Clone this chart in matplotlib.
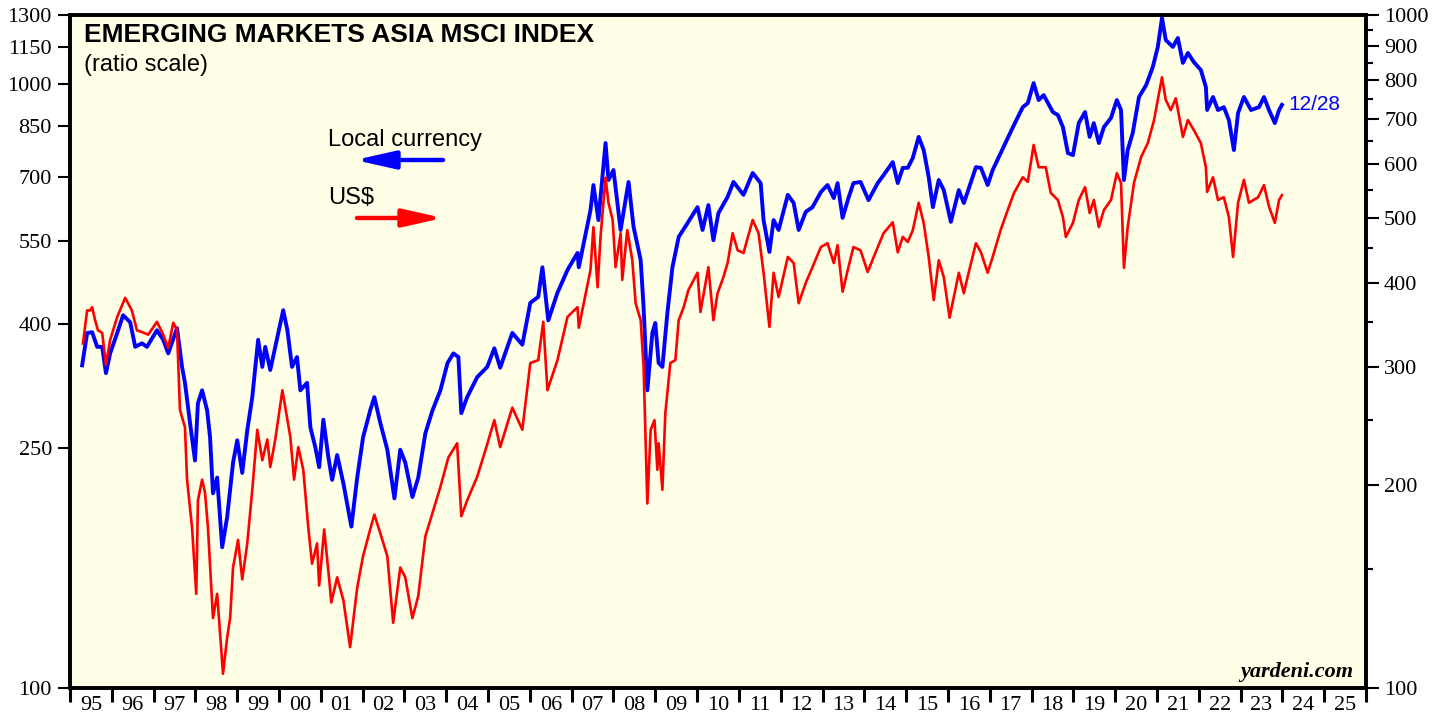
import matplotlib
matplotlib.use("Agg")
import matplotlib.pyplot as plt
from matplotlib.ticker import FixedLocator, FixedFormatter, NullFormatter, NullLocator

# MSCI EM Asia, local currency (left scale)
local_years = [
    1995.29, 1995.41, 1995.53, 1995.65, 1995.77, 1995.86, 1995.96, 1996.13, 1996.27, 1996.44,
    1996.56, 1996.72, 1996.84, 1997.08, 1997.23, 1997.35, 1997.56, 1997.68, 1997.75, 1997.87,
    1997.99, 1998.06, 1998.16, 1998.28, 1998.35, 1998.42, 1998.52, 1998.64, 1998.76, 1998.90,
    1999.00, 1999.12, 1999.24, 1999.36, 1999.50, 1999.60, 1999.67, 1999.79, 1999.91, 2000.10,
    2000.20, 2000.31, 2000.43, 2000.51, 2000.67, 2000.75, 2000.87, 2000.96, 2001.06, 2001.18,
    2001.27, 2001.39, 2001.54, 2001.73, 2001.87, 2002.01, 2002.18, 2002.28, 2002.42, 2002.59,
    2002.76, 2002.90, 2003.02, 2003.19, 2003.33, 2003.50, 2003.67, 2003.86, 2004.03, 2004.17,
    2004.29, 2004.36, 2004.50, 2004.74, 2004.98, 2005.15, 2005.29, 2005.58, 2005.82, 2006.01,
    2006.20, 2006.30, 2006.44, 2006.66, 2006.90, 2007.14, 2007.17, 2007.45, 2007.52, 2007.64,
    2007.81, 2007.88, 2008.00, 2008.17, 2008.36, 2008.48, 2008.65, 2008.72, 2008.81, 2008.93,
    2009.00, 2009.08, 2009.17, 2009.29, 2009.41, 2009.56, 2009.77, 2010.01, 2010.13, 2010.27,
    2010.39, 2010.51, 2010.73, 2010.87, 2011.11, 2011.33, 2011.52, 2011.59, 2011.73, 2011.83,
    2011.95, 2012.17, 2012.31, 2012.43, 2012.60, 2012.76, 2012.96, 2013.12, 2013.27, 2013.36,
    2013.48, 2013.62, 2013.74, 2013.91, 2014.10, 2014.32, 2014.46, 2014.68, 2014.80, 2014.92,
    2015.04, 2015.16, 2015.30, 2015.42, 2015.54, 2015.64, 2015.78, 2015.90, 2016.07, 2016.26,
    2016.38, 2016.47, 2016.67, 2016.79, 2016.95, 2017.07, 2017.26, 2017.43, 2017.58, 2017.79,
    2017.91, 2018.05, 2018.17, 2018.29, 2018.51, 2018.63, 2018.75, 2018.87, 2018.99, 2019.13,
    2019.28, 2019.39, 2019.49, 2019.61, 2019.73, 2019.90, 2020.04, 2020.14, 2020.21, 2020.30,
    2020.42, 2020.57, 2020.74, 2020.90, 2021.02, 2021.12, 2021.21, 2021.38, 2021.50, 2021.62,
    2021.74, 2021.88, 2022.05, 2022.17, 2022.20, 2022.34, 2022.46, 2022.60, 2022.72, 2022.84,
    2022.94, 2023.08, 2023.25, 2023.44, 2023.56, 2023.68, 2023.82, 2023.92, 2023.99,
]
local_values = [
    342, 387, 388, 367, 367, 332, 358, 387, 414, 403,
    367, 372, 367, 391, 377, 358, 394, 340, 320, 275,
    238, 296, 311, 288, 260, 210, 223, 171, 192, 236,
    257, 227, 267, 303, 377, 340, 367, 336, 367, 422,
    391, 340, 353, 311, 320, 270, 250, 232, 278, 241,
    221, 243, 218, 185, 223, 260, 288, 303, 275, 248,
    206, 248, 236, 207, 223, 264, 288, 311, 345, 358,
    353, 285, 303, 327, 340, 365, 339, 387, 370, 434,
    444, 497, 406, 451, 492, 525, 497, 618, 680, 595,
    798, 693, 720, 573, 688, 580, 511, 427, 311, 387,
    402, 345, 340, 418, 497, 558, 588, 625, 573, 630,
    551, 611, 650, 688, 655, 712, 685, 595, 527, 595,
    573, 655, 635, 573, 614, 625, 662, 680, 647, 685,
    600, 647, 685, 688, 642, 685, 706, 742, 685, 726,
    726, 754, 817, 777, 701, 625, 693, 667, 591, 667,
    635, 662, 728, 726, 680, 720, 768, 813, 855, 915,
    929, 1003, 940, 958, 898, 888, 848, 768, 762, 861,
    898, 817, 861, 798, 848, 878, 940, 905, 693, 777,
    829, 951, 995, 1066, 1151, 1285, 1182, 1151, 1191, 1083,
    1125, 1087, 1054, 988, 905, 951, 905, 915, 871, 777,
    895, 951, 905, 915, 951, 905, 861, 905, 923,
]

# MSCI EM Asia, US$ (right scale)
usd_years = [
    1995.31, 1995.41, 1995.48, 1995.53, 1995.60, 1995.67, 1995.77, 1995.86, 1995.96, 1996.13,
    1996.32, 1996.48, 1996.60, 1996.72, 1996.87, 1997.08, 1997.23, 1997.35, 1997.47, 1997.56,
    1997.63, 1997.75, 1997.80, 1997.92, 1998.02, 1998.06, 1998.16, 1998.23, 1998.30, 1998.42,
    1998.52, 1998.66, 1998.76, 1998.83, 1998.90, 1999.02, 1999.12, 1999.24, 1999.36, 1999.48,
    1999.60, 1999.72, 1999.79, 1999.91, 2000.08, 2000.15, 2000.27, 2000.36, 2000.46, 2000.58,
    2000.70, 2000.79, 2000.91, 2000.96, 2001.08, 2001.20, 2001.25, 2001.39, 2001.54, 2001.70,
    2001.87, 2002.01, 2002.18, 2002.28, 2002.42, 2002.59, 2002.73, 2002.90, 2003.02, 2003.19,
    2003.33, 2003.50, 2003.67, 2003.86, 2004.05, 2004.26, 2004.36, 2004.50, 2004.74, 2004.94,
    2005.15, 2005.29, 2005.58, 2005.82, 2006.01, 2006.20, 2006.32, 2006.42, 2006.66, 2006.90,
    2007.14, 2007.17, 2007.45, 2007.52, 2007.62, 2007.69, 2007.81, 2007.88, 2007.98, 2008.05,
    2008.17, 2008.21, 2008.33, 2008.45, 2008.53, 2008.65, 2008.72, 2008.81, 2008.89, 2008.98,
    2009.05, 2009.08, 2009.17, 2009.24, 2009.36, 2009.48, 2009.56, 2009.68, 2009.79, 2010.01,
    2010.08, 2010.27, 2010.39, 2010.49, 2010.63, 2010.73, 2010.85, 2010.97, 2011.11, 2011.33,
    2011.47, 2011.59, 2011.73, 2011.83, 2011.95, 2012.17, 2012.31, 2012.43, 2012.60, 2012.76,
    2012.96, 2013.12, 2013.27, 2013.36, 2013.48, 2013.62, 2013.74, 2013.91, 2014.08, 2014.27,
    2014.46, 2014.68, 2014.80, 2014.92, 2015.04, 2015.16, 2015.30, 2015.42, 2015.54, 2015.66,
    2015.78, 2015.90, 2016.04, 2016.26, 2016.38, 2016.47, 2016.67, 2016.79, 2016.95, 2017.07,
    2017.26, 2017.43, 2017.58, 2017.79, 2017.91, 2018.05, 2018.17, 2018.34, 2018.46, 2018.63,
    2018.75, 2018.82, 2018.99, 2019.13, 2019.28, 2019.39, 2019.49, 2019.61, 2019.73, 2019.90,
    2020.04, 2020.14, 2020.21, 2020.30, 2020.45, 2020.62, 2020.78, 2020.93, 2021.12, 2021.21,
    2021.33, 2021.45, 2021.62, 2021.74, 2021.88, 2022.05, 2022.17, 2022.20, 2022.34, 2022.46,
    2022.60, 2022.72, 2022.82, 2022.94, 2023.08, 2023.20, 2023.42, 2023.56, 2023.68, 2023.82,
    2023.92, 2023.99,
]
usd_values = [
    325, 364, 364, 368, 352, 340, 337, 302, 329, 356,
    380, 364, 340, 338, 335, 350, 335, 320, 349, 340,
    259, 244, 204, 173, 138, 190, 204, 195, 173, 127,
    138, 105, 119, 127, 151, 166, 145, 164, 197, 242,
    218, 234, 213, 234, 277, 261, 236, 204, 228, 211,
    173, 153, 164, 142, 172, 145, 134, 146, 135, 115,
    141, 157, 172, 181, 170, 157, 125, 151, 146, 127,
    137, 168, 182, 199, 220, 231, 180, 190, 206, 226,
    250, 228, 261, 242, 304, 307, 350, 277, 307, 356,
    368, 343, 418, 484, 394, 468, 573, 526, 496, 422,
    474, 404, 479, 432, 373, 352, 300, 188, 242, 250,
    211, 231, 197, 256, 304, 307, 352, 368, 390, 414,
    362, 422, 352, 386, 408, 428, 474, 447, 443, 496,
    474, 414, 344, 414, 381, 437, 428, 373, 400, 422,
    452, 458, 428, 455, 388, 422, 452, 447, 415, 444,
    474, 492, 444, 468, 460, 479, 526, 491, 437, 377,
    432, 408, 355, 414, 386, 408, 458, 444, 414, 437,
    479, 513, 544, 574, 565, 641, 594, 594, 544, 531,
    501, 468, 491, 531, 555, 508, 531, 484, 513, 531,
    582, 563, 421, 484, 563, 615, 645, 698, 808, 748,
    722, 752, 659, 698, 675, 645, 594, 546, 574, 531,
    536, 501, 437, 526, 569, 526, 536, 559, 519, 491,
    531, 540,
]

left_ticks = [100, 250, 400, 550, 700, 850, 1000, 1150, 1300]
right_ticks = [100, 200, 300, 400, 500, 600, 700, 800, 900, 1000]
right_minor = [150, 250, 350, 450, 550, 650, 750, 850, 950]
year_edges = list(range(1995, 2027))
year_labels = ["%02d" % (y % 100) for y in range(1995, 2026)]

SERIF = "Liberation Serif"
SANS = "Liberation Sans"
W, H = 1446, 719

fig = plt.figure(figsize=(W / 100, H / 100), dpi=100)
ax = fig.add_axes([70 / W, 1 - 688 / H, 1296 / W, 673 / H])
ax.set_facecolor("#fffee6")
ax2 = ax.twinx()

ax.plot(local_years, local_values, color="#0000ff", lw=2.8, solid_joinstyle="round")
ax2.plot(usd_years, usd_values, color="#ff0000", lw=1.9, solid_joinstyle="round")

ax.set_xlim(1995, 2026)
ax.set_yscale("log")
ax.set_ylim(100, 1300)
ax2.set_yscale("log")
ax2.set_ylim(100, 1000)

# left axis
ax.yaxis.set_major_locator(FixedLocator(left_ticks))
ax.yaxis.set_major_formatter(FixedFormatter([str(v) for v in left_ticks]))
ax.yaxis.set_minor_locator(NullLocator())
ax.yaxis.set_minor_formatter(NullFormatter())

# right axis
ax2.yaxis.set_major_locator(FixedLocator(right_ticks))
ax2.yaxis.set_major_formatter(FixedFormatter([str(v) for v in right_ticks]))
ax2.yaxis.set_minor_locator(FixedLocator(right_minor))
ax2.yaxis.set_minor_formatter(NullFormatter())

# x axis: tick at each year boundary, label centred in the year
ax.xaxis.set_major_locator(FixedLocator(year_edges))
ax.xaxis.set_major_formatter(NullFormatter())
ax.xaxis.set_minor_locator(FixedLocator([y + 0.5 for y in range(1995, 2026)]))
ax.xaxis.set_minor_formatter(FixedFormatter(year_labels))

ax.tick_params(axis="y", which="major", direction="out", length=9, width=1.5,
               labelsize=16, pad=4)
ax.tick_params(axis="x", which="major", direction="out", length=10, width=2.2)
ax.tick_params(axis="x", which="minor", length=0, labelsize=16, pad=6)
ax2.tick_params(axis="y", which="major", direction="out", length=9, width=1.5,
                labelsize=16, pad=4)
ax2.tick_params(axis="y", which="minor", direction="out", length=5, width=1.5)

for lab in ax.get_yticklabels() + ax2.get_yticklabels() + ax.get_xticklabels(minor=True):
    lab.set_fontfamily(SERIF)

for a in (ax, ax2):
    for s in a.spines.values():
        s.set_linewidth(2.6)

fig.text(84 / W, 1 - 35 / H, "EMERGING MARKETS ASIA MSCI INDEX", fontsize=19,
         fontweight="bold", family=SANS, va="center", ha="left")
fig.text(84 / W, 1 - 65 / H, "(ratio scale)", fontsize=17, family=SANS,
         va="center", ha="left")
fig.text(328 / W, 1 - 140 / H, "Local currency", fontsize=17, family=SANS,
         va="center", ha="left")
fig.text(328 / W, 1 - 198 / H, "US$", fontsize=17, family=SANS,
         va="center", ha="left")
fig.text(1288 / W, 1 - 104 / H, "12/28", fontsize=15, family=SANS, color="#0000ff",
         va="center", ha="left")
fig.text(1353 / W, 1 - 672 / H, "yardeni.com", fontsize=16, family=SERIF,
         fontweight="bold", fontstyle="italic", va="center", ha="right")

arrow_style = "-|>,head_length=2.0,head_width=0.45"
fig.add_artist(matplotlib.patches.FancyArrowPatch(
    (443 / W, 1 - 160 / H), (355 / W, 1 - 160 / H), transform=fig.transFigure,
    arrowstyle=arrow_style, mutation_scale=12, color="#0000ff", lw=3.2,
    shrinkA=0, shrinkB=0))
fig.add_artist(matplotlib.patches.FancyArrowPatch(
    (357 / W, 1 - 218 / H), (443 / W, 1 - 218 / H), transform=fig.transFigure,
    arrowstyle=arrow_style, mutation_scale=12, color="#ff0000", lw=3.2,
    shrinkA=0, shrinkB=0))

fig.savefig("out.png", dpi=100)
